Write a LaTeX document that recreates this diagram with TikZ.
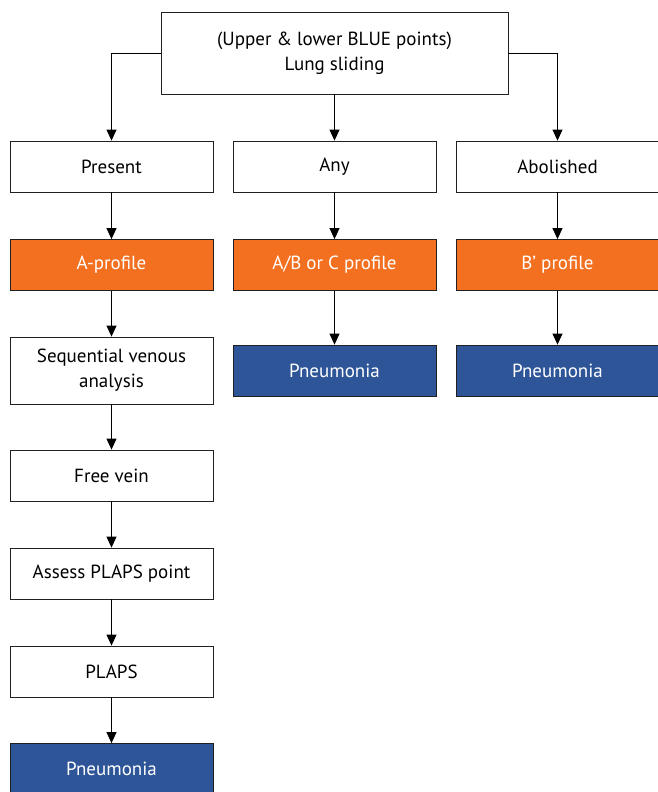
\documentclass[tikz,border=0pt]{standalone}
\usepackage{fontspec}
\setmainfont{PT Sans}
\usepackage{tikz}
\usetikzlibrary{arrows.meta, positioning}
\definecolor{ProfileOrange}{HTML}{F37021}
\definecolor{DxBlue}{HTML}{2E5597}
\definecolor{EdgeGray}{HTML}{231F20}

\begin{document}
\begin{tikzpicture}[x=1pt, y=-1pt,
  box/.style={rectangle, draw=EdgeGray, line width=0.8pt, fill=white,
    minimum width=203pt, minimum height=51pt, inner sep=2pt,
    align=center, font=\fontsize{19}{25}\selectfont, text=black},
  profile/.style={box, fill=ProfileOrange, text=white},
  diag/.style={box, fill=DxBlue, text=white},
  arr/.style={-{Triangle[length=11pt, width=10pt]}, line width=0.8pt, black}
]
\useasboundingbox (0,0) rectangle (657,792);
\node[box, minimum width=347pt, minimum height=82pt] (sliding) at (334.5,53)
  {(Upper \& lower BLUE points)\\Lung sliding};
\node[box] (present)   at (111.5,166.5) {Present};
\node[box] (any)       at (334.5,166.5) {Any};
\node[box] (abolished) at (557.5,166.5) {Abolished};
\node[profile] (aprof)  at (111.5,265) {A-profile};
\node[profile] (abcprof) at (334.5,265) {A/B or C profile};
\node[profile] (bprime) at (557.5,265) {B’ profile};
\node[box, minimum height=67pt] (venous) at (111.5,370.5) {Sequential venous\\analysis};
\node[diag] (pneuany)  at (334.5,370.5) {Pneumonia};
\node[diag] (pneuabol) at (557.5,370.5) {Pneumonia};
\node[box] (freevein) at (111.5,475.5) {Free vein};
\node[box] (assess)   at (111.5,573.5) {Assess PLAPS point};
\node[box] (plaps)    at (111.5,671.5) {PLAPS};
\node[diag] (pneuplaps) at (111.5,769) {Pneumonia};

\draw[arr] (sliding.west) -| (present.north);
\draw[arr] (sliding.south) -- (any.north);
\draw[arr] (sliding.east) -| (abolished.north);
\draw[arr] (present) -- (aprof);
\draw[arr] (any) -- (abcprof);
\draw[arr] (abolished) -- (bprime);
\draw[arr] (aprof) -- (venous);
\draw[arr] (abcprof) -- (pneuany);
\draw[arr] (bprime) -- (pneuabol);
\draw[arr] (venous) -- (freevein);
\draw[arr] (freevein) -- (assess);
\draw[arr] (assess) -- (plaps);
\draw[arr] (plaps) -- (pneuplaps);
\end{tikzpicture}
\end{document}
